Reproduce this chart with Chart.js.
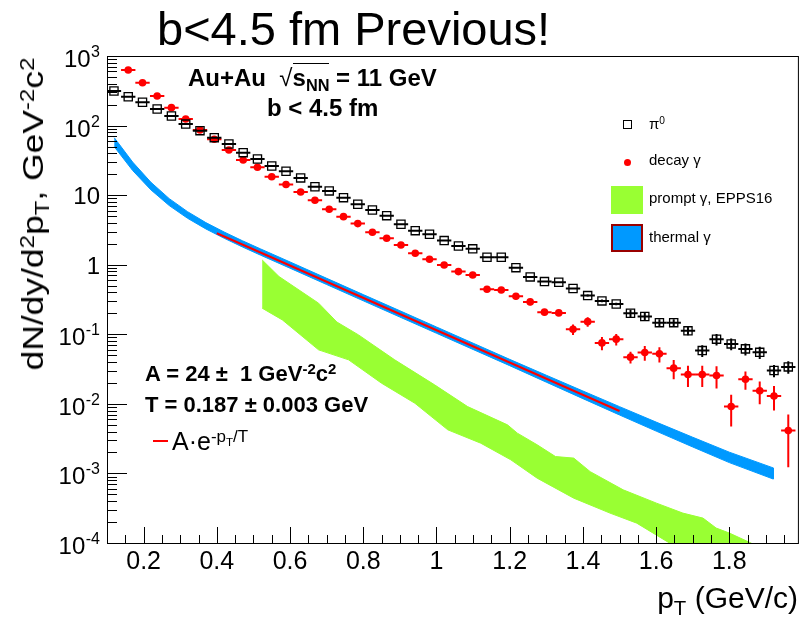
<!DOCTYPE html>
<html lang="en">
<head>
<meta charset="UTF-8">
<title>b&lt;4.5 fm Previous!</title>
<script src="https://cdn.jsdelivr.net/npm/chart.js@4.4.0/dist/chart.umd.min.js"></script>
<style>
  html, body { margin: 0; padding: 0; background: #fff; }
  .wrap { position: relative; width: 806px; height: 621px; overflow: hidden;
          font-family: "Liberation Sans", Arial, Helvetica, sans-serif; color: #000; }
  canvas { position: absolute; left: 0; top: 0; }
  .txt { position: absolute; white-space: nowrap; line-height: 1; }
  .b { font-weight: bold; }
  .sup { position: relative; top: -0.45em; font-size: 0.68em; line-height: 0; }
  .sub { position: relative; top: 0.3em; font-size: 0.68em; line-height: 0; }
  .ov { border-top: 1.5px solid #000; }
  .mk { position: absolute; box-sizing: border-box; }
</style>
</head>
<body>
<div class="wrap">
  <canvas id="chart" width="806" height="621"></canvas>

  <div class="txt" style="left:157px; top:5px; font-size:47px;">b&lt;4.5 fm Previous!</div>

  <div class="txt b" style="left:188px; top:66px; font-size:24px;">Au+Au&nbsp;&nbsp;<span style="font-weight:normal;">√</span><span class="ov">s<span class="sub">NN</span></span> = 11 GeV</div>
  <div class="txt b" style="left:267px; top:96px; font-size:24px;">b &lt; 4.5 fm</div>

  <div class="txt b" style="left:145px; top:363px; font-size:22px;">A = 24 ±&nbsp; 1 GeV<span class="sup">-2</span>c<span class="sup">2</span></div>
  <div class="txt b" style="left:145px; top:394px; font-size:22px;">T = 0.187 ± 0.003 GeV</div>
  <div class="mk" style="left:153px; top:440px; width:15px; height:2px; background:#ff0000;"></div>
  <div class="txt" style="left:172px; top:429px; font-size:25px;">A·e<span class="sup">-p<span class="sub">T</span>/T</span></div>

  <!-- legend -->
  <div class="mk" style="left:623px; top:120px; width:9px; height:9px; border:1.4px solid #000;"></div>
  <div class="txt" style="left:649px; top:116px; font-size:15px;">π<span class="sup">0</span></div>
  <div class="mk" style="left:623.5px; top:158.5px; width:7.5px; height:7.5px; border-radius:50%; background:#ff0000;"></div>
  <div class="txt" style="left:649px; top:152px; font-size:15px;">decay γ</div>
  <div class="mk" style="left:611px; top:186px; width:32px; height:28px; background:rgb(153,255,51);"></div>
  <div class="txt" style="left:649px; top:190px; font-size:15px;">prompt γ, EPPS16</div>
  <div class="mk" style="left:611px; top:224px; width:32px; height:28px; background:rgb(0,153,255); border:2px solid rgb(153,0,0);"></div>
  <div class="txt" style="left:649px; top:229px; font-size:15px;">thermal γ</div>

  <!-- axis titles -->
  <div class="txt" style="right:8px; top:583px; font-size:30px;">p<span class="sub" style="top:0.35em;">T</span> (GeV/c)</div>
  <div class="txt" style="left:33px; top:214px; font-size:30px; transform:translate(-50%,-50%) rotate(-90deg) scaleX(1.18);">dN/dy/d<span class="sup">2</span>p<span class="sub">T</span>, GeV<span class="sup">-2</span>c<span class="sup">2</span></div>
</div>

<script>
// transverse momentum of the pi0 / decay photon points (GeV/c)
const pT = [0.119, 0.158, 0.197, 0.237, 0.276, 0.315, 0.354, 0.393, 0.433, 0.472,
            0.511, 0.550, 0.589, 0.629, 0.668, 0.707, 0.746, 0.785, 0.825, 0.864,
            0.903, 0.942, 0.981, 1.021, 1.060, 1.099, 1.138, 1.177, 1.217, 1.256,
            1.295, 1.334, 1.373, 1.413, 1.452, 1.491, 1.530, 1.569, 1.609, 1.648,
            1.687, 1.726, 1.765, 1.805, 1.844, 1.883, 1.922, 1.961];
const binHalfWidth = 0.0196;

const pi0Yield = [314, 260, 216, 173, 137, 105, 84.5, 67, 54.4, 40.8,
                  33.1, 26.3, 22.0, 17.7, 13.2, 11.5, 9.2, 7.4, 6.12, 5.07,
                  3.82, 3.09, 2.74, 2.22, 1.86, 1.69, 1.28, 1.28, 0.908, 0.668,
                  0.572, 0.561, 0.454, 0.360, 0.302, 0.273, 0.201, 0.180, 0.147, 0.147,
                  0.112, 0.0583, 0.0851, 0.0728, 0.0617, 0.0550, 0.0301, 0.0340];
const pi0Err = [6, 5, 4, 3.5, 2.7, 2.1, 1.7, 1.3, 1.1, 0.8,
                0.66, 0.53, 0.44, 0.35, 0.26, 0.23, 0.18, 0.15, 0.12, 0.10,
                0.08, 0.06, 0.055, 0.045, 0.037, 0.034, 0.026, 0.026, 0.018, 0.014,
                0.015, 0.015, 0.015, 0.015, 0.013, 0.012, 0.024, 0.022, 0.018, 0.018,
                0.015, 0.011, 0.016, 0.014, 0.012, 0.011, 0.006, 0.007];

const decayYield = [null, 629, 413, 266, 181, 124, 86.5, 63.6, 44.6, 32.0,
                    25.2, 18.4, 14.2, 11.1, 8.45, 6.27, 4.91, 3.90, 2.93, 2.40,
                    1.92, 1.46, 1.20, 0.993, 0.796, 0.713, 0.444, 0.434, 0.352, 0.292,
                    0.208, 0.203, 0.118, 0.152, 0.0752, 0.0851, 0.0469, 0.0546, 0.0523, 0.0326,
                    0.0264, 0.0264, 0.0256, 0.00914, 0.0226, 0.0154, 0.0130, 0.00413];
const decayErr = [null, 19, 12, 8, 5.4, 3.7, 2.6, 1.9, 1.3, 1.0,
                  0.76, 0.55, 0.43, 0.33, 0.25, 0.19, 0.15, 0.12, 0.09, 0.07,
                  0.06, 0.045, 0.04, 0.035, 0.03, 0.03, 0.03, 0.03, 0.035, 0.03,
                  0.02, 0.02, 0.02, 0.024, 0.016, 0.016, 0.009, 0.013, 0.013, 0.01,
                  0.009, 0.009, 0.009, 0.0044, 0.0066, 0.0055, 0.005, 0.0029];

// thermal photon band (upper / lower edge)
const thermalPt = [0.12, 0.17, 0.22, 0.27, 0.32, 0.37, 0.42, 0.47, 0.52, 0.60, 0.70, 0.80,
                   0.90, 1.00, 1.10, 1.20, 1.30, 1.40, 1.50, 1.60, 1.70, 1.80, 1.92];
const thermalHi = [66.8, 29.9, 15.3, 8.91, 5.79, 4.03, 2.95, 2.21, 1.683, 1.096, 0.638, 0.372,
                   0.218, 0.1274, 0.0745, 0.0436, 0.0258, 0.01531, 0.00912, 0.00547, 0.00331, 0.00202, 0.00120];
const thermalLo = [49.5, 22.6, 11.9, 7.08, 4.65, 3.27, 2.40, 1.80, 1.368, 0.891, 0.519, 0.303,
                   0.177, 0.1035, 0.0605, 0.0354, 0.0205, 0.01189, 0.00692, 0.00406, 0.00240, 0.00143, 0.00083];

// prompt photon band, EPPS16 (upper and lower edge)
const promptHiPt = [0.524, 0.570, 0.678, 0.728, 0.787, 0.886, 0.995, 1.085, 1.194, 1.221, 1.275,
                    1.325, 1.375, 1.420, 1.510, 1.601, 1.673, 1.728, 1.764, 1.800, 1.859, 1.90];
const promptHi = [1.17, 0.675, 0.280, 0.150, 0.098, 0.0429, 0.01875, 0.00914, 0.00499, 0.00379, 0.00258,
                  0.00175, 0.00166, 0.00106, 0.000581, 0.000374, 0.000269, 0.000228, 0.000164, 0.000139, 0.0001, 0.000075];
const promptLoPt = [0.524, 0.579, 0.678, 0.760, 0.850, 0.941, 1.031, 1.121, 1.203, 1.275,
                    1.375, 1.474, 1.547, 1.637, 1.70, 1.86];
const promptLo = [0.237, 0.161, 0.0597, 0.0429, 0.0198, 0.0102, 0.00423, 0.00272, 0.00157, 0.000855,
                  0.000441, 0.000269, 0.000193, 0.0000995, 0.00007, 0.00003];

// fit A*exp(-pT/T), end points of the drawn range
const fitPt = [0.4, 1.5];
const fitYield = [2.83, 0.0079];

// axis ticks
const xTicks = [0.2, 0.4, 0.6, 0.8, 1.0, 1.2, 1.4, 1.6, 1.8];
const xTickLabels = ['0.2', '0.4', '0.6', '0.8', '1', '1.2', '1.4', '1.6', '1.8'];
const yTicks = [1e3, 1e2, 1e1, 1, 1e-1, 1e-2, 1e-3, 1e-4];
const yTickBase = ['10', '10', '10', '1', '10', '10', '10', '10'];
const yTickExp = ['3', '2', '', '', '-1', '-2', '-3', '-4'];

// helpers to build point lists
function points(xs, ys) {
    const out = [];
    xs.forEach((x, i) => { if (ys[i] !== null) out.push({ x: x, y: ys[i] }); });
    return out;
}
function band(loX, lo, hiX, hi) {
    return points(hiX, hi).concat(points(loX, lo).reverse());
}
const decayPts = points(pT, decayYield);
const decayErrs = decayErr.filter(e => e !== null);

const FONT = '"Liberation Sans", Arial, sans-serif';

// ROOT-like frame, ticks, tick labels and error bars
const rootAxes = {
    id: 'rootAxes',
    beforeDatasetDraw(chart, args) {
        const ds = chart.data.datasets[args.index];
        if (!ds.errY) return;
        const { ctx, chartArea: a } = chart;
        const xs = chart.scales.x, ys = chart.scales.y;
        ctx.save();
        ctx.beginPath();
        ctx.rect(a.left, a.top, a.right - a.left, a.bottom - a.top);
        ctx.clip();
        ctx.strokeStyle = ds.errColor;
        ctx.lineWidth = 2;
        ds.data.forEach((p, i) => {
            const e = ds.errY[i];
            const px = xs.getPixelForValue(p.x);
            const py = ys.getPixelForValue(p.y);
            ctx.beginPath();
            ctx.moveTo(xs.getPixelForValue(p.x - binHalfWidth), py);
            ctx.lineTo(xs.getPixelForValue(p.x + binHalfWidth), py);
            ctx.moveTo(px, ys.getPixelForValue(p.y + e));
            ctx.lineTo(px, ys.getPixelForValue(Math.max(p.y - e, 1e-6)));
            ctx.stroke();
        });
        ctx.restore();
    },
    afterDatasetsDraw(chart) {
        const { ctx, chartArea: a } = chart;
        const xs = chart.scales.x, ys = chart.scales.y;
        ctx.save();
        ctx.strokeStyle = '#000';
        ctx.lineWidth = 1;
        ctx.strokeRect(a.left + 0.5, a.top + 0.5, a.right - a.left - 1, a.bottom - a.top);

        // x ticks: major every 0.2, minor every 0.05
        ctx.beginPath();
        for (let k = 3; k <= 39; k++) {
            const v = k * 0.05;
            const px = Math.round(xs.getPixelForValue(v)) + 0.5;
            const len = (k % 4 === 0) ? 16 : 8;
            ctx.moveTo(px, a.bottom);
            ctx.lineTo(px, a.bottom - len);
        }
        // y ticks: decades and 2..9
        for (let d = -4; d <= 2; d++) {
            for (let m = 1; m <= 9; m++) {
                const v = m * Math.pow(10, d);
                const py = Math.round(ys.getPixelForValue(v)) + 0.5;
                const len = (m === 1) ? 20 : 10;
                ctx.moveTo(a.left, py);
                ctx.lineTo(a.left + len, py);
            }
        }
        ctx.stroke();

        // tick labels
        ctx.fillStyle = '#000';
        ctx.textAlign = 'center';
        ctx.textBaseline = 'alphabetic';
        ctx.font = '25px ' + FONT;
        xTicks.forEach((v, i) => {
            ctx.fillText(xTickLabels[i], xs.getPixelForValue(v), 569);
        });
        ctx.textAlign = 'right';
        yTicks.forEach((v, i) => {
            const py = ys.getPixelForValue(v);
            let right = 100;
            if (yTickExp[i]) {
                ctx.font = '16px ' + FONT;
                ctx.fillText(yTickExp[i], right, py + 1);
                right -= ctx.measureText(yTickExp[i]).width + 0.5;
                ctx.font = '24px ' + FONT;
                ctx.fillText(yTickBase[i], right, py + 11);
            } else {
                ctx.font = '24px ' + FONT;
                ctx.fillText(yTickBase[i], right, py + 9);
            }
        });
        ctx.restore();
    }
};

const ctx = document.getElementById('chart').getContext('2d');
const chart = new Chart(ctx, {
    type: 'scatter',
    data: {
        datasets: [
            {
                type: 'line',
                label: 'prompt γ, EPPS16',
                order: 5,
                data: band(promptLoPt, promptLo, promptHiPt, promptHi),
                fill: 'shape',
                backgroundColor: 'rgb(153,255,51)',
                borderColor: 'rgb(153,255,51)',
                borderWidth: 1,
                pointRadius: 0,
                tension: 0
            },
            {
                type: 'line',
                label: 'thermal γ',
                order: 4,
                data: band(thermalPt, thermalLo, thermalPt, thermalHi),
                fill: 'shape',
                backgroundColor: 'rgb(0,153,255)',
                borderColor: 'rgb(0,153,255)',
                borderWidth: 1,
                pointRadius: 0,
                tension: 0
            },
            {
                type: 'line',
                label: 'fit',
                order: 3,
                data: points(fitPt, fitYield),
                fill: false,
                borderColor: '#ff0000',
                borderWidth: 2,
                pointRadius: 0
            },
            {
                label: 'decay γ',
                order: 2,
                data: decayPts,
                errY: decayErrs,
                errColor: '#ff0000',
                pointStyle: 'circle',
                pointRadius: 3.8,
                backgroundColor: '#ff0000',
                borderColor: '#ff0000',
                borderWidth: 0
            },
            {
                label: 'π0',
                order: 1,
                data: points(pT, pi0Yield),
                errY: pi0Err,
                errColor: '#000',
                pointStyle: 'rect',
                pointRadius: 5.8,
                backgroundColor: 'rgba(0,0,0,0)',
                borderColor: '#000',
                borderWidth: 1.3
            }
        ]
    },
    options: {
        responsive: false,
        animation: false,
        devicePixelRatio: 1,
        layout: { padding: { left: 107, top: 56, right: 3, bottom: 78 } },
        scales: {
            x: { type: 'linear', min: 0.1, max: 1.99, display: false },
            y: { type: 'logarithmic', min: 1e-4, max: 1e3, display: false }
        },
        plugins: {
            legend: { display: false },
            tooltip: { enabled: false }
        }
    },
    plugins: [rootAxes]
});
</script>
</body>
</html>
